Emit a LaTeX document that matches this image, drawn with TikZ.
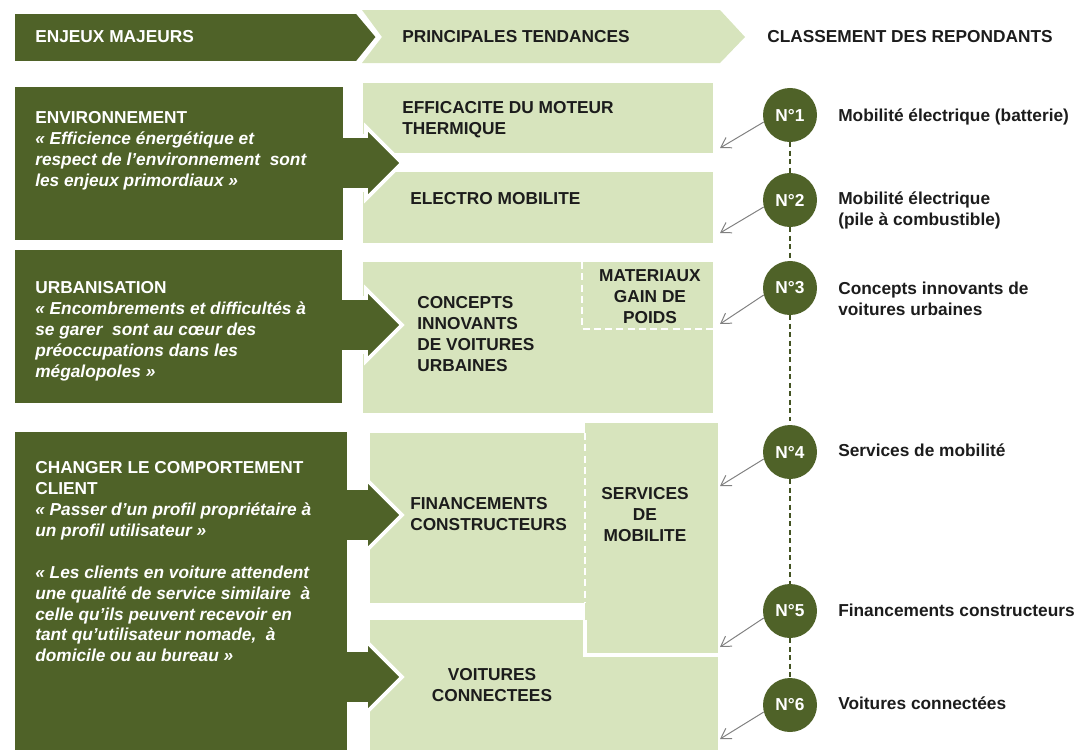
\documentclass[tikz,border=0pt]{standalone}
\usepackage{fontspec}
\setmainfont{Liberation Sans}
\usetikzlibrary{arrows.meta}
\definecolor{olive}{HTML}{4F6228}
\definecolor{sage}{HTML}{D7E4BD}
\definecolor{ink}{HTML}{1C1C1C}
\definecolor{pointergray}{HTML}{808080}
\begin{document}
\begin{tikzpicture}[x=0.025cm,y=-0.025cm,
  every node/.style={inner sep=0pt, font=\fontsize{12.3}{14.9}\selectfont\bfseries},
  dark/.style={fill=olive},
  light/.style={fill=sage},
  push/.style={fill=olive, draw=white, line width=2.6pt, line join=miter},
  whitetxt/.style={text=white, align=left},
  blacktxt/.style={text=ink},
  rank/.style={circle, fill=olive, text=white, minimum size=1.35cm},
  rankline/.style={draw=olive!85!black, line width=1.6pt, dash pattern=on 3.5pt off 2.5pt},
  pointer/.style={draw=pointergray, line width=0.7pt, -{Straight Barb[length=2.4mm,width=3mm]}},
  split/.style={draw=white, line width=1.4pt, dash pattern=on 5pt off 3pt}]
\useasboundingbox (0,0) rectangle (1078,750);

\fill[light] (362,10) -- (720,10) -- (745,37) -- (720,63) -- (362,63) -- (382,37) -- cycle;
\path[push] (13,12) -- (357,12) -- (378,37) -- (357,63) -- (13,63) -- cycle;
\node[text=white, anchor=west] (enjeux) at (35,37) {ENJEUX MAJEURS};
\node[blacktxt, anchor=west] (tendances) at (402,37) {PRINCIPALES TENDANCES};
\node[blacktxt, anchor=west] (classement) at (767,37) {CLASSEMENT DES REPONDANTS};

\fill[light] (363,83) rectangle (713,153);
\fill[light] (363,172) rectangle (713,243);
\fill[light] (363,262) rectangle (713,413);
\fill[light] (370,433) rectangle (585,603);
\fill[light] (370,620) rectangle (718,750);
\fill[light] (585,423) rectangle (718,655);
\draw[split] (582,262) -- (582,329) -- (713,329);
\draw[split] (585,433) -- (585,603);
\draw[draw=white, line width=2.8pt] (585,620) -- (585,655) -- (718,655);

\path[push] (330,136) -- (366,136) -- (366,127) -- (402,163) -- (366,199) -- (366,190) -- (330,190) -- cycle;
\path[push] (330,298) -- (366,298) -- (366,289) -- (402,325) -- (366,361) -- (366,352) -- (330,352) -- cycle;
\path[push] (330,488) -- (366,488) -- (366,479) -- (402,515) -- (366,551) -- (366,542) -- (330,542) -- cycle;
\path[push] (330,650) -- (366,650) -- (366,641) -- (402,677) -- (366,713) -- (366,704) -- (330,704) -- cycle;

\fill[dark] (15,87) rectangle (343,240);
\fill[dark] (15,250) rectangle (342,403);
\fill[dark] (15,432) rectangle (347,750);

\node[whitetxt, anchor=north west] (env) at (35,111) {ENVIRONNEMENT\\
  \textit{« Efficience énergétique et}\\
  \textit{respect de l'environnement\ \ sont}\\
  \textit{les enjeux primordiaux »}};
\node[whitetxt, anchor=north west] (urba) at (35,281) {URBANISATION\\
  \textit{« Encombrements et difficultés à}\\
  \textit{se garer\ \ sont au cœur des}\\
  \textit{préoccupations dans\ les}\\
  \textit{mégalopoles »}};
\node[whitetxt, anchor=north west] (client) at (35,461) {CHANGER LE COMPORTEMENT\\
  CLIENT\\
  \textit{« Passer d'un profil propriétaire à}\\
  \textit{un profil utilisateur »}\\[14.9pt]
  \textit{« Les clients en voiture attendent}\\
  \textit{une qualité de service similaire\ \ à}\\
  \textit{celle qu'ils peuvent recevoir en}\\
  \textit{tant qu'utilisateur nomade,\ \ à}\\
  \textit{domicile ou au bureau »}};

\node[blacktxt, anchor=north west, align=left] (moteur) at (402,101) {EFFICACITE DU MOTEUR\\THERMIQUE};
\node[blacktxt, anchor=west] (electro) at (410,199) {ELECTRO MOBILITE};
\node[blacktxt, anchor=north west, align=left] (concepts) at (417,296) {CONCEPTS\\INNOVANTS\\DE VOITURES\\URBAINES};
\node[blacktxt, anchor=north, align=center] (materiaux) at (650,269) {MATERIAUX\\GAIN DE\\POIDS};
\node[blacktxt, anchor=north west, align=left] (financements) at (410,497) {FINANCEMENTS\\CONSTRUCTEURS};
\node[blacktxt, anchor=north, align=center] (services) at (645,487) {SERVICES\\DE\\MOBILITE};
\node[blacktxt, anchor=north, align=center] (voitures) at (492,668) {VOITURES\\CONNECTEES};

\node[rank] (N1) at (790,115) {N°1};
\node[rank] (N2) at (790,200) {N°2};
\node[rank] (N3) at (790,288) {N°3};
\node[rank] (N4) at (790,452) {N°4};
\node[rank] (N5) at (790,611) {N°5};
\node[rank] (N6) at (790,705) {N°6};
\draw[rankline] (N1) -- (N2);
\draw[rankline] (N2) -- (N3);
\draw[rankline] (N3) -- (N4);
\draw[rankline] (N4) -- (N5);
\draw[rankline] (N5) -- (N6);

\coordinate (tip_N1) at ([shift={(-70,33)}]N1);
\coordinate (tip_N2) at ([shift={(-70,33)}]N2);
\coordinate (tip_N3) at ([shift={(-70,36)}]N3);
\coordinate (tip_N4) at ([shift={(-70,34)}]N4);
\coordinate (tip_N5) at ([shift={(-70,36)}]N5);
\coordinate (tip_N6) at ([shift={(-70,34)}]N6);
\draw[pointer] (N1.195) -- (tip_N1);
\draw[pointer] (N2.195) -- (tip_N2);
\draw[pointer] (N3.195) -- (tip_N3);
\draw[pointer] (N4.195) -- (tip_N4);
\draw[pointer] (N5.195) -- (tip_N5);
\draw[pointer] (N6.195) -- (tip_N6);

\node[blacktxt, anchor=west] (lab_N1) at ([shift={(48,2)}]N1) {Mobilité électrique (batterie)};
\node[blacktxt, anchor=north west, align=left] (lab_N2) at ([shift={(48,-8)}]N2) {Mobilité électrique\\(pile à combustible)};
\node[blacktxt, anchor=north west, align=left] (lab_N3) at ([shift={(48,-6)}]N3) {Concepts innovants de\\voitures urbaines};
\node[blacktxt, anchor=west] (lab_N4) at ([shift={(48,-2)}]N4) {Services de mobilité};
\node[blacktxt, anchor=west] (lab_N5) at ([shift={(48,-1)}]N5) {Financements constructeurs};
\node[blacktxt, anchor=west] (lab_N6) at ([shift={(48,-2)}]N6) {Voitures connectées};
\end{tikzpicture}
\end{document}
